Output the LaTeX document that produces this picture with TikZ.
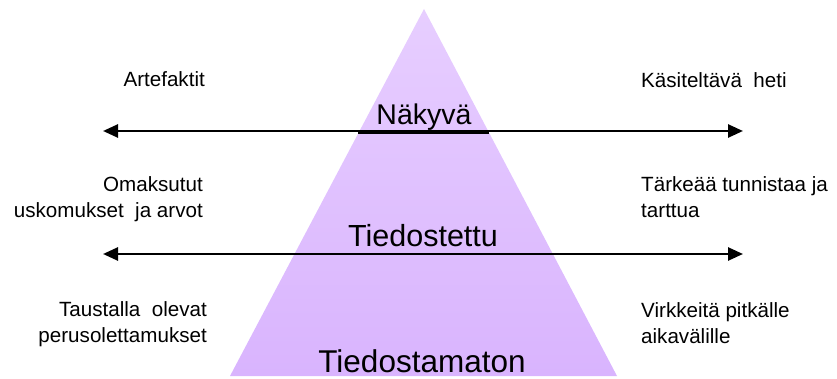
\documentclass[tikz,border=0pt]{standalone}
\usepackage{fontspec}
\setmainfont{Liberation Sans}
\usetikzlibrary{arrows.meta,calc}
\definecolor{pyrtop}{RGB}{231,206,255}
\definecolor{pyrbottom}{RGB}{217,180,254}
\begin{document}
\begin{tikzpicture}[x=1pt,y=-1pt,
  level/.style={inner sep=0pt, anchor=base},
  note/.style={font=\fontsize{20.6}{26}\selectfont, inner sep=0pt},
  leftnote/.style={note, align=right, anchor=base east},
  rightnote/.style={note, align=left, anchor=base west},
  axis/.style={line width=2.6pt,
    {Triangle[length=15pt,width=13pt]}-{Triangle[length=15pt,width=13pt]}}]
\useasboundingbox (0,0) rectangle (837,379);

% pyramid
\coordinate (apex) at (424,9);
\coordinate (baseL) at (230,376);
\coordinate (baseR) at (617,376);
\shade[top color=pyrtop, bottom color=pyrbottom] (apex) -- (baseL) -- (baseR) -- cycle;

% border of the top layer
\coordinate (topL) at ($(apex)!0.3378!(baseL)$);
\coordinate (topR) at ($(apex)!0.3378!(baseR)$);
\draw[line width=1.6pt] (topL) -- (topR);

% level names
\node[level, font=\fontsize{28.5}{34}\selectfont] (vis) at (424,125) {Näkyvä};
\node[level, font=\fontsize{30.5}{36}\selectfont] (con) at (423,247) {Tiedostettu};
\node[level, font=\fontsize{31.5}{38}\selectfont] (unc) at (422,372) {Tiedostamaton};

% horizontal double arrows
\coordinate (a1L) at (103,131);
\coordinate (a1R) at (743,131);
\coordinate (a2L) at (103,254);
\coordinate (a2R) at (743,254);
\draw[axis] (a1L) -- (a1R);
\draw[axis] (a2L) -- (a2R);

% left notes (anchored at the baseline of the last line)
\node[leftnote] (n1) at (205,87) {Artefaktit};
\node[leftnote] (n2) at (203,218) {Omaksutut\\uskomukset\ \ ja arvot};
\node[leftnote] (n3) at (207,342) {Taustalla\ \ olevat\\perusolettamukset};

% right notes
\node[rightnote] (m1) at (641,88) {Käsiteltävä\ \ heti};
\node[rightnote] (m2) at (641,218) {Tärkeää tunnistaa ja\\tarttua};
\node[rightnote] (m3) at (641,343) {Virkkeitä pitkälle\\aikavälille};
\end{tikzpicture}
\end{document}
